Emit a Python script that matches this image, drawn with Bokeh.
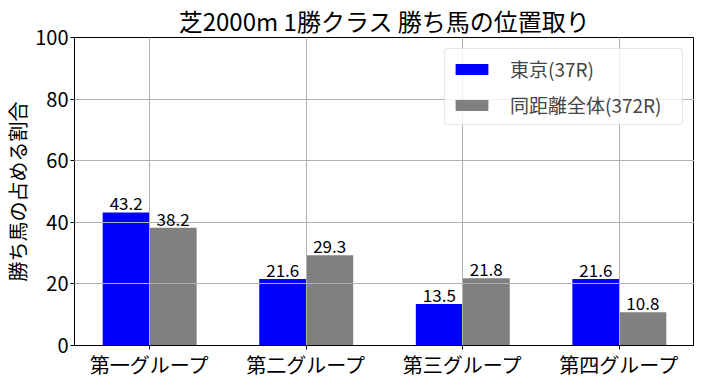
from bokeh.plotting import figure
from bokeh.models import ColumnDataSource, FixedTicker, Range1d, Legend, LegendItem, LabelSet
from bokeh.core.properties import value
from bokeh.embed import file_html
from bokeh.resources import INLINE

categories = ["第一グループ", "第二グループ", "第三グループ", "第四グループ"]
tokyo = [43.2, 21.6, 13.5, 21.6]
overall = [38.2, 29.3, 21.8, 10.8]
series_names = ["東京(37R)", "同距離全体(372R)"]
title_text = "芝2000m 1勝クラス 勝ち馬の位置取り"
ylabel = "勝ち馬の占める割合"

FONT = "Noto Sans CJK JP"
w = 0.3
xs = list(range(len(categories)))

p = figure(frame_width=620, frame_height=308, output_backend="svg", toolbar_location=None,
           x_range=Range1d(-0.48, 3.48), y_range=Range1d(0, 100),
           min_border_left=69, min_border_right=0, min_border_top=30, min_border_bottom=24,
           title=title_text)
p.title.align = "center"
p.title.text_font = FONT
p.title.text_font_size = "24px"
p.title.text_font_style = "normal"
p.title.text_color = "black"
p.title.standoff = 0
p.title.offset = 0

s1 = ColumnDataSource(dict(x=[x - w / 2 for x in xs], top=tokyo, lab=[f"{v:.1f}" for v in tokyo]))
s2 = ColumnDataSource(dict(x=[x + w / 2 for x in xs], top=overall, lab=[f"{v:.1f}" for v in overall]))
r1 = p.vbar(x="x", top="top", width=w, source=s1, fill_color="#0000ff", line_color=None)
r2 = p.vbar(x="x", top="top", width=w, source=s2, fill_color="#808080", line_color=None)

for s in (s1, s2):
    p.add_layout(LabelSet(x="x", y="top", text="lab", source=s, text_align="center",
                          text_baseline="bottom", text_font=value(FONT), text_font_size="17px",
                          text_color="black", y_offset=2))

p.xaxis.ticker = FixedTicker(ticks=xs)
p.xaxis.major_label_overrides = {i: c for i, c in enumerate(categories)}
p.yaxis.ticker = FixedTicker(ticks=[0, 20, 40, 60, 80, 100])
p.yaxis.axis_label = ylabel
for ax in (p.xaxis, p.yaxis):
    ax.major_label_text_font = FONT
    ax.major_label_text_font_size = "20px"
    ax.major_label_text_color = "black"
    ax.axis_label_text_font = FONT
    ax.axis_label_text_font_size = "20px"
    ax.axis_label_text_font_style = "normal"
    ax.axis_label_text_color = "black"
    ax.minor_tick_line_color = None
    ax.major_tick_out = 4
    ax.major_tick_in = 0
    ax.axis_line_color = "black"
    ax.major_tick_line_color = "black"
    ax.major_label_standoff = 2
p.xaxis.major_label_standoff = 0
p.yaxis.axis_label_standoff = 0

p.xgrid.grid_line_color = "#b0b0b0"
p.ygrid.grid_line_color = "#b0b0b0"
p.xgrid.level = "guide"
p.ygrid.level = "guide"
p.outline_line_color = "black"
p.outline_line_alpha = 1

legend = Legend(items=[LegendItem(label=series_names[0], renderers=[r1]),
                       LegendItem(label=series_names[1], renderers=[r2])],
                location="top_right")
legend.label_text_font = FONT
legend.label_text_font_size = "19px"
legend.glyph_width = 41
legend.glyph_height = 14
legend.label_standoff = 18
legend.label_width = 166
legend.spacing = 9
legend.padding = 6
legend.margin = 11
legend.border_line_color = "#cccccc"
legend.border_radius = 4
legend.background_fill_alpha = 0.8
p.add_layout(legend)

open("out.html", "w").write(file_html(p, INLINE))
